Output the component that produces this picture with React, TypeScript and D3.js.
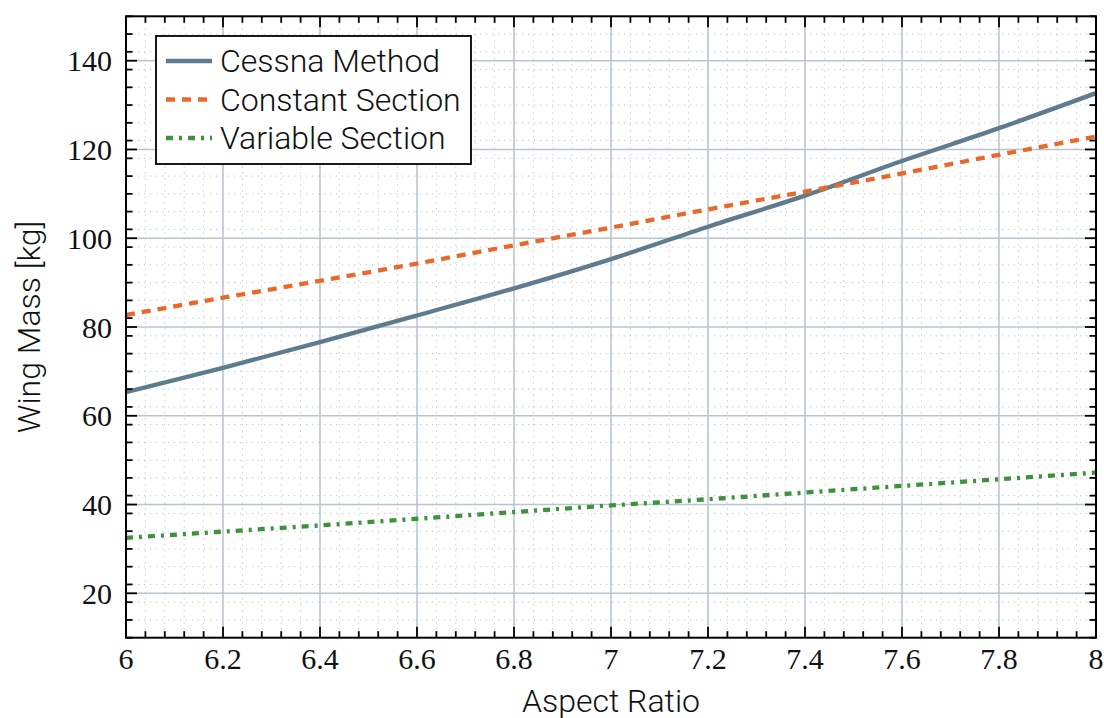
import React, { useEffect } from "react";
import * as d3 from "d3";

const aspectRatios = [6, 6.2, 6.4, 6.6, 6.8, 7, 7.2, 7.4, 7.6, 7.8, 8];
const cessnaMethod = [65.3, 70.8, 76.6, 82.6, 88.7, 95.3, 102.6, 109.6, 117.4, 124.8, 132.7];
const constantSection = [82.7, 86.6, 90.4, 94.3, 98.4, 102.4, 106.5, 110.5, 114.6, 118.8, 122.9];
const variableSection = [32.5, 33.9, 35.3, 36.8, 38.3, 39.8, 41.2, 42.7, 44.2, 45.7, 47.2];

const xTicks = [6, 6.2, 6.4, 6.6, 6.8, 7, 7.2, 7.4, 7.6, 7.8, 8];
const xTickLabels = ["6", "6.2", "6.4", "6.6", "6.8", "7", "7.2", "7.4", "7.6", "7.8", "8"];
const yTicks = [20, 40, 60, 80, 100, 120, 140];

const seriesNames = ["Cessna Method", "Constant Section", "Variable Section"];
const seriesColors = ["#5f7c8e", "#e8692b", "#3f923c"];
const seriesDash = ["none", "9 7", "7 6 3 6"];

const W = 1104;
const H = 718;
const L = 126;
const R = 1096;
const T = 16.3;
const B = 637.7;

export default function App() {
  useEffect(() => {
    document.body.style.margin = "0";
  }, []);

  const x = d3.scaleLinear().domain([6, 8]).range([L, R]);
  const y = d3.scaleLinear().domain([10, 150]).range([B, T]);

  const xMinor = d3.range(0, 51).map((i) => 6 + i * 0.04).filter((v) => Math.abs((v - 6) / 0.2 - Math.round((v - 6) / 0.2)) > 1e-6);
  const yMinor = d3.range(0, 36).map((i) => 10 + i * 4).filter((v) => v % 20 !== 0 && v > 10 && v < 150);
  const xMinorTicks = xMinor;
  const yMinorTicks = d3.range(0, 36).map((i) => 10 + i * 4).filter((v) => v % 20 !== 0 && v >= 10 && v <= 150);

  const line = d3
    .line<number>()
    .x((_, i) => x(aspectRatios[i]))
    .y((d) => y(d))
    .curve(d3.curveMonotoneX);

  const series = [cessnaMethod, constantSection, variableSection];
  const gridColor = "#b8c6d0";
  const serif = "'Liberation Serif', 'DejaVu Serif', serif";
  const sans = "Roboto, 'Open Sans', sans-serif";

  return (
    <svg width={W} height={H} style={{ display: "block", background: "#fff" }}>
      <defs>
        <clipPath id="plotclip">
          <rect x={L} y={T} width={R - L} height={B - T} />
        </clipPath>
      </defs>
      <g stroke={gridColor} strokeWidth={1} strokeDasharray="1.2 4.8">
        {xMinor.map((v, i) => (
          <line key={"xm" + i} x1={x(v)} x2={x(v)} y1={T} y2={B} />
        ))}
        {yMinor.map((v, i) => (
          <line key={"ym" + i} x1={L} x2={R} y1={y(v)} y2={y(v)} />
        ))}
      </g>
      <g stroke={gridColor} strokeWidth={1.6}>
        {xTicks.map((v, i) => (
          <line key={"xg" + i} x1={x(v)} x2={x(v)} y1={T} y2={B} />
        ))}
        {yTicks.map((v, i) => (
          <line key={"yg" + i} x1={L} x2={R} y1={y(v)} y2={y(v)} />
        ))}
      </g>
      <g clipPath="url(#plotclip)" fill="none">
        {series.map((s, i) => (
          <path
            key={"s" + i}
            d={line(s) || ""}
            stroke={seriesColors[i]}
            strokeWidth={4.3}
            strokeDasharray={seriesDash[i]}
          />
        ))}
      </g>
      <g stroke="#000" strokeWidth={1.8}>
        {xTicks.map((v, i) => (
          <g key={"xt" + i}>
            <line x1={x(v)} x2={x(v)} y1={B} y2={B - 11} />
            <line x1={x(v)} x2={x(v)} y1={T} y2={T + 11} />
          </g>
        ))}
        {xMinorTicks.map((v, i) => (
          <g key={"xmt" + i}>
            <line x1={x(v)} x2={x(v)} y1={B} y2={B - 6.5} />
            <line x1={x(v)} x2={x(v)} y1={T} y2={T + 6.5} />
          </g>
        ))}
        {yTicks.map((v, i) => (
          <g key={"yt" + i}>
            <line x1={L} x2={L + 11} y1={y(v)} y2={y(v)} />
            <line x1={R} x2={R - 11} y1={y(v)} y2={y(v)} />
          </g>
        ))}
        {yMinorTicks.map((v, i) => (
          <g key={"ymt" + i}>
            <line x1={L} x2={L + 6.5} y1={y(v)} y2={y(v)} />
            <line x1={R} x2={R - 6.5} y1={y(v)} y2={y(v)} />
          </g>
        ))}
      </g>
      <rect x={L} y={T} width={R - L} height={B - T} fill="none" stroke="#000" strokeWidth={2} />
      <g fontFamily={serif} fontSize={30} fill="#111">
        {xTicks.map((v, i) => (
          <text key={"xl" + i} x={x(v)} y={669} textAnchor="middle">
            {xTickLabels[i]}
          </text>
        ))}
        {yTicks.map((v, i) => (
          <text key={"yl" + i} x={112} y={y(v)} textAnchor="end" dominantBaseline="central">
            {String(v)}
          </text>
        ))}
      </g>
      <text x={(L + R) / 2} y={712} textAnchor="middle" fontFamily={sans} fontWeight={300} fontSize={32} fill="#111">
        Aspect Ratio
      </text>
      <text
        transform={`translate(40, ${(T + B) / 2}) rotate(-90)`}
        textAnchor="middle"
        fontFamily={sans}
        fontWeight={300}
        fontSize={32}
        fill="#111"
      >
        Wing Mass [kg]
      </text>
      <g>
        <rect x={156} y={36} width={315} height={128} fill="#fff" stroke="#000" strokeWidth={1.8} />
        {seriesNames.map((n, i) => {
          const ly = 61 + i * 38.5;
          return (
            <g key={"lg" + i}>
              <line x1={166} x2={212} y1={ly} y2={ly} stroke={seriesColors[i]} strokeWidth={4.3} strokeDasharray={seriesDash[i]} />
              <text x={220} y={ly} dominantBaseline="central" fontFamily={sans} fontWeight={300} fontSize={32} fill="#111">
                {n}
              </text>
            </g>
          );
        })}
      </g>
    </svg>
  );
}
